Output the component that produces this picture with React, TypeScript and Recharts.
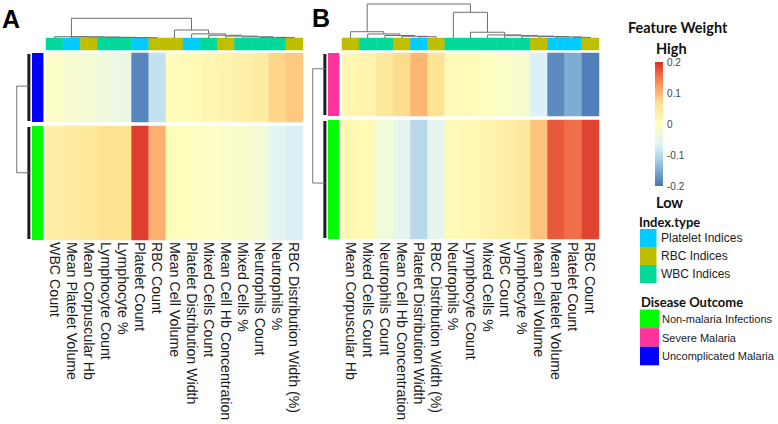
import { ComposedChart, XAxis, YAxis, ReferenceArea, ReferenceLine } from "recharts";

const FONT = '"Liberation Sans", Arial, sans-serif';
const TITLE_FONT = 'Lato, "Liberation Sans", Arial, sans-serif';

// feature -> index type
const indexType: Record<string, string> = {
  "WBC Count": "WBC Indices",
  "Mean Platelet Volume": "Platelet Indices",
  "Mean Corpuscular Hb": "RBC Indices",
  "Lymphocyte Count": "WBC Indices",
  "Lymphocyte %": "WBC Indices",
  "Platelet Count": "Platelet Indices",
  "RBC Count": "RBC Indices",
  "Mean Cell Volume": "RBC Indices",
  "Platelet Distribution Width": "Platelet Indices",
  "Mixed Cells Count": "WBC Indices",
  "Mean Cell Hb Concentration": "RBC Indices",
  "Mixed Cells %": "WBC Indices",
  "Neutrophils Count": "WBC Indices",
  "Neutrophils %": "WBC Indices",
  "RBC Distribution Width (%)": "RBC Indices",
};
const indexTypes = ["Platelet Indices", "RBC Indices", "WBC Indices"];
const indexColors = ["#00CCFF", "#BFBF00", "#00D99A"];

const outcomes = ["Non-malaria Infections", "Severe Malaria", "Uncomplicated Malaria"];
const outcomeColors = ["#00FF00", "#FF3399", "#0000FF"];

// panel A
const featuresA = [
  "WBC Count", "Mean Platelet Volume", "Mean Corpuscular Hb", "Lymphocyte Count",
  "Lymphocyte %", "Platelet Count", "RBC Count", "Mean Cell Volume",
  "Platelet Distribution Width", "Mixed Cells Count", "Mean Cell Hb Concentration",
  "Mixed Cells %", "Neutrophils Count", "Neutrophils %", "RBC Distribution Width (%)",
];
const groupsA = ["Uncomplicated Malaria", "Non-malaria Infections"];
const groupSizesA = [69, 114];
const uncomplicatedA = [-0.01, -0.02, -0.025, -0.035, -0.045, -0.185, -0.09, 0.005, 0.01, 0.02, 0.025, 0.03, 0.04, 0.075, 0.085];
const nonMalariaA = [0.035, 0.04, 0.05, 0.06, 0.065, 0.19, 0.105, 0.005, 0.002, -0.005, -0.01, -0.015, -0.025, -0.06, -0.07];
// hclust-style merges: negative = leaf (column), positive = earlier merge
const mergeA: [number, number, number][] = [
  [-6, -7, 0.008], [-5, 1, 0.014], [-4, 2, 0.02], [-3, 3, 0.026], [-2, 4, 0.032], [-1, 5, 0.038],
  [-14, -15, 0.01], [-13, 7, 0.02], [-12, 8, 0.035], [-11, 9, 0.055], [-10, 10, 0.08],
  [-9, 11, 0.12], [-8, 12, 0.235], [6, 13, 0.58],
];
const rowAnchorsA = [0.48, 0.41];

// panel B
const featuresB = [
  "Mean Corpuscular Hb", "Mixed Cells Count", "Neutrophils Count", "Mean Cell Hb Concentration",
  "Platelet Distribution Width", "RBC Distribution Width (%)", "Neutrophils %", "Lymphocyte Count",
  "Mixed Cells %", "WBC Count", "Lymphocyte %", "Mean Cell Volume", "Mean Platelet Volume",
  "Platelet Count", "RBC Count",
];
const groupsB = ["Severe Malaria", "Non-malaria Infections"];
const groupSizesB = [63, 119];
const severeB = [0.02, 0.025, 0.05, 0.07, 0.1, 0.06, 0.01, 0.01, 0.0, -0.01, -0.02, -0.07, -0.18, -0.15, -0.19];
const nonMalariaB = [0.015, 0.01, -0.03, -0.055, -0.1, -0.055, 0.01, 0.015, 0.025, 0.035, 0.045, 0.09, 0.17, 0.155, 0.185];
const mergeB: [number, number, number][] = [
  [-5, -6, 0.038], [-4, 1, 0.05], [-3, 2, 0.074], [-2, 3, 0.118], [-1, 4, 0.185],
  [-14, -15, 0.02], [-13, 6, 0.03], [-12, 7, 0.04], [-11, 8, 0.055], [-10, 9, 0.07],
  [-9, 10, 0.09], [-8, 11, 0.17], [-7, 12, 0.756], [5, 13, 1.0],
];
const rowAnchorsB = [0.25, 0.53];

const scaleTicks = [0.2, 0.1, 0, -0.1, -0.2];

const RAMP = ["#4575B4", "#91BFDB", "#E0F3F8", "#FFFFBF", "#FEE090", "#FC8D59", "#D73027"];

function hex(c: string) {
  return [1, 3, 5].map((i) => parseInt(c.slice(i, i + 2), 16));
}
function weightColor(v: number) {
  const t = Math.max(0, Math.min(1, (v + 0.2) / 0.4)) * (RAMP.length - 1);
  const i = Math.min(Math.floor(t), RAMP.length - 2);
  const f = t - i;
  const a = hex(RAMP[i]);
  const b = hex(RAMP[i + 1]);
  const m = a.map((x, k) => Math.round(x + (b[k] - x) * f));
  return `rgb(${m[0]},${m[1]},${m[2]})`;
}

function dendroSegments(merge: [number, number, number][]) {
  const nodes: { x: number; h: number }[] = [];
  const get = (id: number) => (id < 0 ? { x: -id - 0.5, h: 0 } : nodes[id - 1]);
  const segs: [number, number, number, number][] = [];
  merge.forEach(([a, b, h]) => {
    const p = get(a);
    const q = get(b);
    segs.push([p.x, p.h, p.x, h], [q.x, q.h, q.x, h], [p.x, h, q.x, h]);
    nodes.push({ x: (p.x + q.x) / 2, h });
  });
  return segs;
}

const GAP = 4;
const ROW_DOMAIN: [number, number] = [-49, 187];
const DEND_DOMAIN: [number, number] = [-202 / 34, 1];

type PanelProps = {
  left: number;
  width: number;
  margin: { top: number; right: number; bottom: number; left: number };
  features: string[];
  groups: string[];
  sizes: number[];
  weights: number[][];
  merge: [number, number, number][];
  anchors: number[];
};

function Panel({ left, width, margin, features, groups, sizes, weights, merge, anchors }: PanelProps) {
  const data = features.map((f, i) => ({ name: f, pos: i + 0.5 }));
  const starts: number[] = [];
  let acc = 0;
  sizes.forEach((s) => {
    starts.push(acc);
    acc += s + GAP;
  });
  const segs = dendroSegments(merge);
  const rootX = -1.71;
  const fringeX = -1.0;
  const anchorY = anchors.map((a, k) => starts[k] + a * sizes[k]);

  const renderTick = (p: any) => {
    const name = features[Math.round(p.payload.value - 0.5)];
    return (
      <text
        x={p.x}
        y={p.y}
        transform={`rotate(90 ${p.x} ${p.y})`}
        textAnchor="start"
        dominantBaseline="central"
        fontFamily={FONT}
        fontSize={14.2}
        fill="#1a1a1a"
      >
        {name}
      </text>
    );
  };

  return (
    <div style={{ position: "absolute", left, top: 0 }}>
      <ComposedChart width={width} height={424} data={data} margin={margin}>
        <XAxis
          type="number"
          dataKey="pos"
          domain={[-2, 15]}
          allowDataOverflow
          ticks={data.map((d) => d.pos)}
          interval={0}
          tick={renderTick}
          tickLine={false}
          axisLine={false}
          tickSize={0}
          tickMargin={2}
          height={184}
        />
        <YAxis yAxisId="rows" type="number" domain={ROW_DOMAIN} reversed hide allowDataOverflow />
        <YAxis yAxisId="dend" type="number" domain={DEND_DOMAIN} hide allowDataOverflow />

        {/* annotation bar */}
        {features.map((f, i) => (
          <ReferenceArea
            key={`ann-${i}`}
            yAxisId="rows"
            x1={i}
            x2={i + 1}
            y1={-15}
            y2={-3}
            fill={indexColors[indexTypes.indexOf(indexType[f])]}
            fillOpacity={1}
            stroke={indexColors[indexTypes.indexOf(indexType[f])]}
            strokeWidth={0.5}
            ifOverflow="visible"
          />
        ))}

        {/* heatmap cells */}
        {groups.map((g, k) =>
          weights[k].map((v, i) => (
            <ReferenceArea
              key={`cell-${k}-${i}`}
              yAxisId="rows"
              x1={i}
              x2={i + 1}
              y1={starts[k]}
              y2={starts[k] + sizes[k]}
              fill={weightColor(v)}
              fillOpacity={1}
              stroke={weightColor(v)}
              strokeWidth={0.5}
              ifOverflow="visible"
            />
          ))
        )}

        {/* row side colours */}
        {groups.map((g, k) => (
          <ReferenceArea
            key={`side-${k}`}
            yAxisId="rows"
            x1={-0.82}
            x2={-0.15}
            y1={starts[k]}
            y2={starts[k] + sizes[k]}
            fill={outcomeColors[outcomes.indexOf(g)]}
            fillOpacity={1}
            stroke="none"
            ifOverflow="visible"
          />
        ))}

        {/* row dendrogram */}
        {groups.map((g, k) => (
          <ReferenceLine
            key={`fringe-${k}`}
            yAxisId="rows"
            segment={[{ x: fringeX, y: starts[k] + 1 }, { x: fringeX, y: starts[k] + sizes[k] - 1 }]}
            stroke="#1c1c1c"
            strokeWidth={3}
            ifOverflow="visible"
          />
        ))}
        {anchorY.map((y, k) => (
          <ReferenceLine
            key={`stub-${k}`}
            yAxisId="rows"
            segment={[{ x: rootX, y }, { x: fringeX, y }]}
            stroke="#777"
            strokeWidth={1}
            ifOverflow="visible"
          />
        ))}
        <ReferenceLine
          yAxisId="rows"
          segment={[{ x: rootX, y: anchorY[0] }, { x: rootX, y: anchorY[1] }]}
          stroke="#777"
          strokeWidth={1}
          ifOverflow="visible"
        />

        {/* column dendrogram */}
        {segs.map((s, j) => (
          <ReferenceLine
            key={`dend-${j}`}
            yAxisId="dend"
            segment={[{ x: s[0], y: s[1] }, { x: s[2], y: s[3] }]}
            stroke="#6e6e6e"
            strokeWidth={1}
            ifOverflow="visible"
          />
        ))}
      </ComposedChart>
    </div>
  );
}

function Legend() {
  const barTop = 62;
  const barBottom = 186;
  const tickY = (v: number) => barTop + ((0.2 - v) / 0.4) * (barBottom - barTop);
  return (
    <svg
      width={778}
      height={424}
      style={{ position: "absolute", left: 0, top: 0, pointerEvents: "none" }}
    >
      <defs>
        <linearGradient id="fw" x1="0" y1="1" x2="0" y2="0">
          {RAMP.map((c, i) => (
            <stop key={c} offset={i / (RAMP.length - 1)} stopColor={c} />
          ))}
        </linearGradient>
      </defs>
      <text x={2} y={28} fontFamily={FONT} fontWeight="bold" fontSize={25} fill="#000">A</text>
      <text x={312} y={27} fontFamily={FONT} fontWeight="bold" fontSize={25} fill="#000">B</text>

      <text x={628} y={33} fontFamily={TITLE_FONT} fontWeight="bold" fontSize={14.5} fill="#111">Feature Weight</text>
      <text x={656} y={54} fontFamily={TITLE_FONT} fontWeight="bold" fontSize={14.5} fill="#111">High</text>
      <rect x={655} y={barTop} width={8} height={barBottom - barTop} fill="url(#fw)" />
      {scaleTicks.map((v) => (
        <text key={v} x={667} y={tickY(v)} dominantBaseline="central" fontFamily={FONT} fontSize={10} fill="#444">
          {v === 0 ? "0" : String(v)}
        </text>
      ))}
      <text x={656} y={208} fontFamily={TITLE_FONT} fontWeight="bold" fontSize={14.5} fill="#111">Low</text>

      <text x={639} y={227} fontFamily={TITLE_FONT} fontWeight="bold" fontSize={13} fill="#111">Index.type</text>
      {indexTypes.map((t, i) => (
        <g key={t}>
          <rect x={640} y={229 + i * 18} width={16.5} height={18} fill={indexColors[i]} />
          <text x={661} y={238 + i * 18} dominantBaseline="central" fontFamily={FONT} fontSize={12} fill="#222">{t}</text>
        </g>
      ))}

      <text x={641} y={307} fontFamily={TITLE_FONT} fontWeight="bold" fontSize={13} fill="#111">Disease Outcome</text>
      {outcomes.map((t, i) => (
        <g key={t}>
          <rect x={640} y={309.5 + i * 18.6} width={19} height={18.6} fill={outcomeColors[i]} />
          <text x={662} y={319 + i * 18.6} dominantBaseline="central" fontFamily={FONT} fontSize={11} fill="#222">{t}</text>
        </g>
      ))}
    </svg>
  );
}

export default function App() {
  return (
    <div style={{ position: "absolute", left: 0, top: 0, width: 778, height: 424, background: "#fff", overflow: "hidden" }}>
      <Panel
        left={0}
        width={330}
        margin={{ top: 4, right: 27, bottom: 0, left: 46 - (2 * 257) / 15 }}
        features={featuresA}
        groups={groupsA}
        sizes={groupSizesA}
        weights={[uncomplicatedA, nonMalariaA]}
        merge={mergeA}
        anchors={rowAnchorsA}
      />
      <Panel
        left={300}
        width={340}
        margin={{ top: 4, right: 41, bottom: 0, left: 342 - 300 - (2 * 257) / 15 }}
        features={featuresB}
        groups={groupsB}
        sizes={groupSizesB}
        weights={[severeB, nonMalariaB]}
        merge={mergeB}
        anchors={rowAnchorsB}
      />
      <Legend />
    </div>
  );
}
